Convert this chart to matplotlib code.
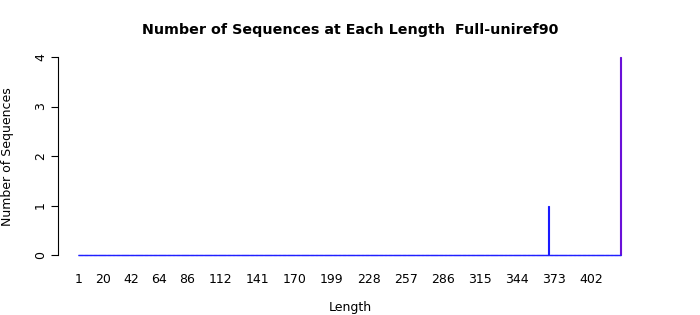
import numpy as np
import matplotlib.pyplot as plt

# sequence counts per length (1..425), all zero except two
lengths = np.arange(1, 426)
counts = np.zeros(len(lengths))
nonzero_lengths = [369, 425]
nonzero_counts = [1, 4]
for l, c in zip(nonzero_lengths, nonzero_counts):
    counts[l - 1] = c

tick_labels = [1, 20, 42, 64, 86, 112, 141, 170, 199, 228, 257, 286, 315, 344, 373, 402]
bar_colors = {0: "#2020ff", 1: "#1a1aff", 4: "#6a10d8"}

fig = plt.figure(figsize=(7, 3.15), dpi=100)
W, H = 700, 315
px = 1.277  # pixels per length unit
left_px, right_px = 58, 640
ax = fig.add_axes([left_px / W, (H - 255) / H, (right_px - left_px) / W, (255 - 57) / H])

cols = [bar_colors[int(c)] for c in counts]
ax.bar(lengths, counts, width=0.83, color=cols, edgecolor=cols, linewidth=0.8, clip_on=False)
# zero-height bars show up as a continuous border line at 0
ax.hlines(0, lengths[0] - 0.42, lengths[-1] + 0.42, color="#2020ff", linewidth=1.0, clip_on=False)

ax.set_xlim(1 - (79 - left_px) / px, 1 + (right_px - 79) / px)
ax.set_ylim(0, 4)

for s in ["top", "right", "bottom"]:
    ax.spines[s].set_visible(False)
ax.spines["left"].set_linewidth(0.8)
ax.set_yticks([0, 1, 2, 3, 4])
ax.set_yticklabels(["0", "1", "2", "3", "4"], rotation=90, va="center", fontsize=9)
ax.tick_params(axis="y", length=5, width=0.8, pad=3)
ax.set_xticks(tick_labels)
ax.set_xticklabels([str(t) for t in tick_labels], fontsize=9)
ax.tick_params(axis="x", length=0, pad=13)

fig.text(350 / W, 1 - 308 / H, "Length", ha="center", va="center", fontsize=9)
fig.text(8 / W, 1 - 157 / H, "Number of Sequences", ha="center", va="center",
         rotation=90, fontsize=9)
fig.text(350 / W, 1 - 30 / H, "Number of Sequences at Each Length  Full-uniref90",
         ha="center", va="center", fontsize=10.25, fontweight="bold")

fig.savefig("out.png", dpi=100)
